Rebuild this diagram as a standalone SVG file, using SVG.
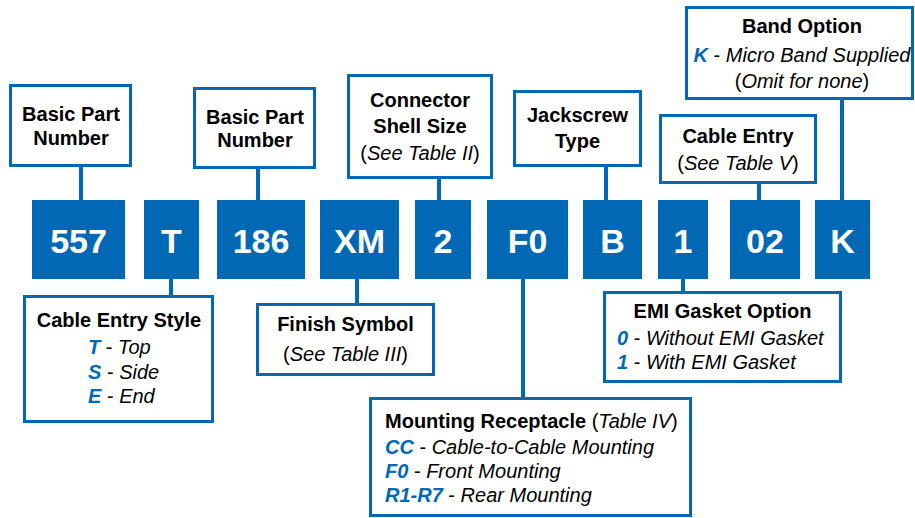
<svg xmlns="http://www.w3.org/2000/svg" width="915" height="518" viewBox="0 0 915 518">
<style>
  .lbl { fill: #ffffff; stroke: #0068B4; stroke-width: 3; }
  .code { fill: #0068B4; }
  .codetxt { font-family: "Liberation Sans", Arial, sans-serif; font-weight: bold; font-size: 34px; fill: #ffffff; text-anchor: middle; }
  .h { font-family: "Liberation Sans", Arial, sans-serif; font-weight: bold; font-size: 20px; fill: #000000; }
  .t { font-family: "Liberation Sans", Arial, sans-serif; font-size: 20px; fill: #000000; }
  .c { text-anchor: middle; }
  .it { font-style: italic; font-weight: normal; }
  .k { font-style: italic; font-weight: bold; fill: #0068B4; }
  .conn line { stroke: #0068B4; stroke-width: 4; }
</style>
<rect width="915" height="518" fill="#ffffff"/>

<g id="connectors" class="conn">
  <line x1="81" y1="166" x2="81" y2="201"/>
  <line x1="258" y1="168" x2="258" y2="201"/>
  <line x1="439" y1="178" x2="439" y2="201"/>
  <line x1="606" y1="166" x2="606" y2="201"/>
  <line x1="759" y1="183" x2="759" y2="201"/>
  <line x1="842" y1="99" x2="842" y2="201"/>
  <line x1="171" y1="278" x2="171" y2="296"/>
  <line x1="357" y1="278" x2="357" y2="304"/>
  <line x1="523" y1="278" x2="523" y2="398"/>
  <line x1="683" y1="278" x2="683" y2="292"/>
</g>

<g id="code-557"><rect class="code" x="32" y="200" width="93" height="79"/><text class="codetxt" x="78.5" y="253">557</text></g>
<g id="code-T"><rect class="code" x="144" y="200" width="55" height="79"/><text class="codetxt" x="171.5" y="253">T</text></g>
<g id="code-186"><rect class="code" x="217" y="200" width="88" height="79"/><text class="codetxt" x="261" y="253">186</text></g>
<g id="code-XM"><rect class="code" x="320" y="200" width="79" height="79"/><text class="codetxt" x="359.5" y="253">XM</text></g>
<g id="code-2"><rect class="code" x="415" y="200" width="56" height="79"/><text class="codetxt" x="443" y="253">2</text></g>
<g id="code-F0"><rect class="code" x="487" y="200" width="81" height="79"/><text class="codetxt" x="527.5" y="253">F0</text></g>
<g id="code-B"><rect class="code" x="583" y="200" width="59" height="79"/><text class="codetxt" x="612.5" y="253">B</text></g>
<g id="code-1"><rect class="code" x="658" y="200" width="50" height="79"/><text class="codetxt" x="683" y="253">1</text></g>
<g id="code-02"><rect class="code" x="730" y="200" width="70" height="79"/><text class="codetxt" x="765" y="253">02</text></g>
<g id="code-K"><rect class="code" x="815" y="200" width="55" height="79"/><text class="codetxt" x="842.5" y="253">K</text></g>

<g id="basic-part-1">
  <rect class="lbl" x="10.5" y="85.5" width="120" height="80"/>
  <text class="h c" x="71" y="121">Basic Part</text>
  <text class="h c" x="71" y="145">Number</text>
</g>
<g id="basic-part-2">
  <rect class="lbl" x="194.5" y="88.5" width="120" height="79"/>
  <text class="h c" x="255" y="124">Basic Part</text>
  <text class="h c" x="255" y="147">Number</text>
</g>
<g id="shell-size">
  <rect class="lbl" x="348.5" y="75.5" width="143" height="102"/>
  <text class="h c" x="420" y="107">Connector</text>
  <text class="h c" x="420" y="133">Shell Size</text>
  <text class="t c" x="420" y="160">(<tspan class="it">See Table II</tspan>)</text>
</g>
<g id="jackscrew">
  <rect class="lbl" x="514.5" y="91.5" width="126" height="74"/>
  <text class="h c" x="577.5" y="122">Jackscrew</text>
  <text class="h c" x="577.5" y="148">Type</text>
</g>
<g id="cable-entry">
  <rect class="lbl" x="660.5" y="115.5" width="155" height="67"/>
  <text class="h c" x="738" y="143">Cable Entry</text>
  <text class="t c" x="738" y="170">(<tspan class="it">See Table V</tspan>)</text>
</g>
<g id="band-option">
  <rect class="lbl" x="686.5" y="7.5" width="226" height="91"/>
  <text class="h c" x="802" y="33">Band Option</text>
  <text class="t c" x="802" y="62"><tspan class="k">K</tspan> - <tspan class="it">Micro Band Supplied</tspan></text>
  <text class="t c" x="802" y="88">(<tspan class="it">Omit for none</tspan>)</text>
</g>
<g id="cable-entry-style">
  <rect class="lbl" x="24.5" y="296.5" width="188" height="125"/>
  <text class="h c" x="119" y="327">Cable Entry Style</text>
  <text class="t" x="88" y="354"><tspan class="k">T</tspan> - <tspan class="it">Top</tspan></text>
  <text class="t" x="88" y="379"><tspan class="k">S</tspan> - <tspan class="it">Side</tspan></text>
  <text class="t" x="88" y="403"><tspan class="k">E</tspan> - <tspan class="it">End</tspan></text>
</g>
<g id="finish-symbol">
  <rect class="lbl" x="257.5" y="304.5" width="176" height="70"/>
  <text class="h c" x="345.5" y="331">Finish Symbol</text>
  <text class="t c" x="345.5" y="361">(<tspan class="it">See Table III</tspan>)</text>
</g>
<g id="mounting-receptacle">
  <rect class="lbl" x="370.5" y="398.5" width="320" height="117"/>
  <text class="t" x="385" y="428"><tspan font-weight="bold">Mounting Receptacle</tspan> (<tspan class="it">Table IV</tspan>)</text>
  <text class="t" x="385" y="454"><tspan class="k">CC</tspan> - <tspan class="it">Cable-to-Cable Mounting</tspan></text>
  <text class="t" x="385" y="478"><tspan class="k">F0</tspan> - <tspan class="it">Front Mounting</tspan></text>
  <text class="t" x="385" y="502"><tspan class="k">R1-R7</tspan> - <tspan class="it">Rear Mounting</tspan></text>
</g>
<g id="emi-gasket">
  <rect class="lbl" x="604.5" y="292.5" width="236" height="89"/>
  <text class="h c" x="722.5" y="318">EMI Gasket Option</text>
  <text class="t" x="617" y="345"><tspan class="k">0</tspan> - <tspan class="it">Without EMI Gasket</tspan></text>
  <text class="t" x="617" y="369"><tspan class="k">1</tspan> - <tspan class="it">With EMI Gasket</tspan></text>
</g>
</svg>
